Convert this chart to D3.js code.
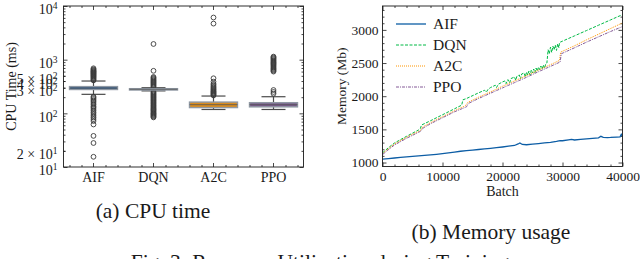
<!DOCTYPE html>
<html>
<head>
<meta charset="utf-8">
<script src="https://cdn.jsdelivr.net/npm/d3@7"></script>
<style>
  body { margin: 0; background: #fff; }
  svg { display: block; font-family: "Liberation Serif", "DejaVu Serif", serif; }
</style>
</head>
<body>
<script>
// ---- (a) CPU time, box stats (ms) ----
var cpuCategories = ["AIF", "DQN", "A2C", "PPO"];
var cpuQ1 = [278, 272, 128, 132];
var cpuMedian = [295, 281, 145, 145];
var cpuQ3 = [315, 288, 162, 158];
var cpuWhiskerLow = [226, 262, 118, 118];
var cpuWhiskerHigh = [400, 300, 210, 204];
var cpuBoxColors = ["#2f5f93", "#7c7c7c", "#d98c1f", "#7a5a8c"];
var aifOutliers = [410, 425, 440, 455, 470, 485, 500, 515, 530, 545, 560, 575, 590, 605, 620, 640, 660, 690,
  205, 195, 185, 175, 165, 155, 145, 135, 128, 120, 112, 104, 97, 90, 84, 78, 72, 62, 38, 28, 15.5];
var dqnOutliers = [84, 87, 90, 93, 96, 99, 102, 106, 110, 114, 118, 122, 127, 132, 137, 142, 148, 154, 160, 167,
  174, 181, 189, 197, 205, 214, 223, 232, 242, 252, 310, 322, 335, 348, 362, 376, 391, 406, 422, 440, 458, 476, 620, 1960];
var a2cOutliers = [215, 222, 229, 236, 244, 252, 260, 270, 280, 292, 305, 320, 338, 355, 389, 450, 4700, 6100];
var ppoOutliers = [232, 250, 272, 600, 625, 650, 675, 700, 730, 760, 790, 820, 850, 880, 910, 945, 980, 1020, 1060, 1100, 1140];
var cpuOutliers = [aifOutliers, dqnOutliers, a2cOutliers, ppoOutliers];
var cpuMajorTicks = [10, 100, 1000, 10000];
var cpuLabelledMinor = [20, 300, 400, 500];

// ---- (b) Memory usage, [batch, Mb] ----
var aifMemory = [[0,1052],[1000,1060],[2000,1068],[3000,1077],[4000,1085],[5000,1092],[6000,1100],[7000,1108],
  [8000,1115],[9000,1124],[10000,1134],[11000,1146],[12000,1158],[13000,1170],[14000,1180],[15000,1188],
  [16000,1196],[17000,1205],[18000,1214],[19000,1224],[20000,1234],[21000,1246],[22000,1257],[22600,1280],
  [22900,1295],[23300,1272],[24000,1268],[25000,1276],[26000,1285],[27000,1295],[28000,1305],[29000,1318],
  [29600,1330],[30000,1328],[31000,1342],[31500,1350],[32000,1340],[33000,1350],[34000,1358],[35000,1365],
  [36000,1372],[36400,1395],[36800,1380],[37500,1376],[38000,1378],[39000,1384],[39600,1388],[39800,1425],[40000,1398]];
var dqnMemory = [[0,1145],[500,1185],[1000,1225],[2000,1295],[4000,1395],[6000,1490],[6300,1510],[6500,1565],
  [8000,1630],[10000,1720],[12000,1810],[13200,1865],[13400,1945],[14000,1965],[16000,2050],[17000,2090],
  [17300,2060],[17600,2105],[18000,2130],[18800,2165],[19000,2130],[19300,2180],[20000,2215],[20400,2230],
  [20600,2190],[20900,2250],[21200,2200],[21400,2265],[22000,2290],[22200,2240],[22400,2300],[22800,2320],
  [23000,2260],[23200,2335],[23600,2350],[23800,2290],[24000,2365],[24200,2320],[24400,2380],[24600,2320],
  [24800,2395],[25000,2350],[25200,2410],[25400,2355],[25600,2425],[25800,2380],[26000,2440],[26200,2400],
  [26400,2455],[26600,2410],[26800,2470],[27000,2420],[27200,2485],[27400,2500],[27600,2700],[27800,2640],
  [28000,2740],[28200,2660],[28400,2755],[28600,2700],[28800,2770],[29000,2690],[29200,2790],[29400,2730],
  [29500,2810],[30000,2830],[32000,2910],[34000,2990],[36000,3070],[38000,3150],[40000,3230]];
var a2cMemory = [[0,1135],[500,1170],[1000,1210],[2000,1280],[4000,1380],[6000,1470],[6400,1490],[6700,1535],
  [8000,1600],[10000,1690],[12000,1780],[13800,1855],[14200,1905],[16000,1985],[18000,2065],[20000,2150],
  [22000,2230],[24000,2310],[26000,2395],[28000,2475],[29500,2540],[29700,2665],[32000,2760],[34000,2850],
  [36000,2935],[38000,3020],[40000,3105]];
var ppoMemory = [[0,1120],[500,1155],[1000,1195],[2000,1265],[4000,1365],[6000,1455],[6400,1475],[6700,1515],
  [8000,1585],[10000,1675],[12000,1765],[14000,1840],[14300,1890],[16000,1965],[18000,2045],[20000,2125],
  [22000,2205],[24000,2285],[26000,2370],[28000,2450],[29600,2515],[29800,2640],[32000,2730],[34000,2815],
  [36000,2895],[38000,2975],[40000,3050]];
var memSeries = ["AIF", "DQN", "A2C", "PPO"];
var memData = [aifMemory, dqnMemory, a2cMemory, ppoMemory];
var memColors = ["#0C5DA5", "#00B945", "#FF9500", "#845B97"];
var memDash = [null, "3,1.5", "1,1", "3,1,1,1"];
var memXTicks = [0, 10000, 20000, 30000, 40000];
var memYTicks = [1000, 1500, 2000, 2500, 3000];

var svg = d3.select("body").append("svg").attr("width", 640).attr("height", 259);
svg.append("rect").attr("width", 640).attr("height", 259).attr("fill", "#fff");

var ink = "#1a1a1a";
var fsA = 14, fsB = 13.5;

function sup(sel, v) {
  var e = Math.floor(Math.log10(v) + 1e-9);
  var m = Math.round(v / Math.pow(10, e));
  sel.text(null).attr("dy", "0.55em");
  sel.append("tspan").text(m === 1 ? "10" : m + " \u00d7 10");
  sel.append("tspan").attr("font-size", 9.5).attr("dy", "-0.5em").text(e);
}

function styleAxis(fs) {
  return function(g) {
    g.select(".domain").remove();
    g.selectAll("line").attr("stroke", ink).attr("stroke-width", 0.8);
    g.selectAll("text").attr("fill", ink).attr("font-size", fs).attr("font-family", "Liberation Serif");
  };
}

// ================= (a) =================
var ax = { l: 63.5, r: 303.5, t: 6, b: 167 };
var xc = d3.scaleBand().domain(cpuCategories).range([ax.l, ax.r]);
var yc = d3.scaleLog().domain([10, 10000]).range([ax.b, ax.t]);
var ga = svg.append("g");
var stA = styleAxis(fsA);

var minorLog = yc.ticks().filter(function(v) { return cpuMajorTicks.indexOf(v) < 0; });
ga.append("g").attr("transform", "translate(" + ax.l + ",0)")
  .call(d3.axisLeft(yc).tickValues(minorLog).tickSize(-2).tickFormat("")).call(stA);
ga.append("g").attr("transform", "translate(" + ax.r + ",0)")
  .call(d3.axisRight(yc).tickValues(minorLog).tickSize(-2).tickFormat("")).call(stA);
ga.append("g").attr("transform", "translate(" + ax.r + ",0)")
  .call(d3.axisRight(yc).tickValues(cpuMajorTicks).tickSize(-4).tickFormat("")).call(stA);
var yAxisA = ga.append("g").attr("transform", "translate(" + ax.l + ",0)")
  .call(d3.axisLeft(yc).tickValues(cpuMajorTicks.concat(cpuLabelledMinor)).tickSize(-4).tickPadding(6))
  .call(stA);
yAxisA.selectAll(".tick").filter(function(d) { return cpuLabelledMinor.indexOf(d) >= 0; })
  .select("line").attr("x2", 2);
yAxisA.selectAll(".tick text").each(function(d) { sup(d3.select(this), d); });

// category ticks with minor every 0.2 of a band
var xcPos = d3.scaleLinear().domain([-0.5, 3.5]).range([ax.l, ax.r]);
var xMinor = d3.range(-0.4, 3.5, 0.2).filter(function(v) { return Math.abs(v - Math.round(v)) > 0.01; });
[ax.b, ax.t].forEach(function(yy, i) {
  var axisF = i === 0 ? d3.axisBottom : d3.axisTop;
  ga.append("g").attr("transform", "translate(0," + yy + ")")
    .call(axisF(xcPos).tickValues(xMinor).tickSize(-2).tickFormat("")).call(stA);
});
ga.append("g").attr("transform", "translate(0," + ax.t + ")")
  .call(d3.axisTop(xc).tickSize(-4).tickFormat("")).call(stA);
ga.append("g").attr("transform", "translate(0," + ax.b + ")")
  .call(d3.axisBottom(xc).tickSize(-4).tickPadding(5)).call(stA);

// boxes
var boxW = xc.bandwidth() * 0.8;
cpuCategories.forEach(function(c, i) {
  var cx = xc(c) + xc.bandwidth() / 2;
  var g = ga.append("g");
  g.append("line").attr("x1", cx).attr("x2", cx)
    .attr("y1", yc(cpuWhiskerHigh[i])).attr("y2", yc(cpuQ3[i]))
    .attr("stroke", "#4a4a4a").attr("stroke-width", 1.2);
  g.append("line").attr("x1", cx).attr("x2", cx)
    .attr("y1", yc(cpuWhiskerLow[i])).attr("y2", yc(cpuQ1[i]))
    .attr("stroke", "#4a4a4a").attr("stroke-width", 1.2);
  [cpuWhiskerHigh[i], cpuWhiskerLow[i]].forEach(function(w) {
    g.append("line").attr("x1", cx - boxW / 4).attr("x2", cx + boxW / 4)
      .attr("y1", yc(w)).attr("y2", yc(w))
      .attr("stroke", "#4a4a4a").attr("stroke-width", 1.2);
  });
  g.selectAll("circle").data(cpuOutliers[i]).enter().append("circle")
    .attr("cx", cx).attr("cy", function(d) { return yc(d); }).attr("r", 2.4)
    .attr("fill", "none").attr("stroke", "#3a3a3a").attr("stroke-width", 0.9);
  g.append("rect").attr("x", cx - boxW / 2).attr("width", boxW)
    .attr("y", yc(cpuQ3[i])).attr("height", yc(cpuQ1[i]) - yc(cpuQ3[i]))
    .attr("fill", cpuBoxColors[i]).attr("stroke", "#8f98a3").attr("stroke-width", 1.4);
  g.append("line").attr("x1", cx - boxW / 2).attr("x2", cx + boxW / 2)
    .attr("y1", yc(cpuMedian[i])).attr("y2", yc(cpuMedian[i]))
    .attr("stroke", "#555").attr("stroke-width", 0.8);
});

ga.append("rect").attr("x", ax.l).attr("y", ax.t).attr("width", ax.r - ax.l).attr("height", ax.b - ax.t)
  .attr("fill", "none").attr("stroke", ink).attr("stroke-width", 0.9);
ga.append("text").attr("transform", "translate(11," + ((ax.t + ax.b) / 2) + ") rotate(-90)")
  .attr("text-anchor", "middle").attr("dy", "0.35em").attr("font-size", fsA).attr("fill", ink)
  .text("CPU Time (ms)");

// ================= (b) =================
var bx = { l: 382.5, r: 622.5, t: 6, b: 166.5 };
var xm = d3.scaleLinear().domain([0, 40000]).range([bx.l, bx.r]);
var ym = d3.scaleLinear().domain([940, 3360]).range([bx.b, bx.t]);
var gb = svg.append("g");
var stB = styleAxis(fsB);

var xmMinor = d3.range(2000, 40000, 2000).filter(function(v) { return v % 10000; });
var ymMinor = d3.range(1000, 3360, 100).filter(function(v) { return v % 500; });
[[bx.b, d3.axisBottom], [bx.t, d3.axisTop]].forEach(function(p, i) {
  gb.append("g").attr("transform", "translate(0," + p[0] + ")")
    .call(p[1](xm).tickValues(xmMinor).tickSize(-2).tickFormat("")).call(stB);
  gb.append("g").attr("transform", "translate(0," + p[0] + ")")
    .call(p[1](xm).tickValues(memXTicks).tickSize(-4).tickPadding(5).tickFormat(i === 0 ? d3.format("d") : ""))
    .call(stB);
});
[[bx.l, d3.axisLeft], [bx.r, d3.axisRight]].forEach(function(p, i) {
  gb.append("g").attr("transform", "translate(" + p[0] + ",0)")
    .call(p[1](ym).tickValues(ymMinor).tickSize(-2).tickFormat("")).call(stB);
  gb.append("g").attr("transform", "translate(" + p[0] + ",0)")
    .call(p[1](ym).tickValues(memYTicks).tickSize(-4).tickPadding(4).tickFormat(i === 0 ? d3.format("d") : ""))
    .call(stB);
});

var line = d3.line().x(function(d) { return xm(d[0]); }).y(function(d) { return ym(d[1]); });
gb.append("clipPath").attr("id", "clipb").append("rect")
  .attr("x", bx.l).attr("y", bx.t).attr("width", bx.r - bx.l).attr("height", bx.b - bx.t);
memData.forEach(function(data, i) {
  gb.append("path").datum(data).attr("d", line).attr("clip-path", "url(#clipb)")
    .attr("fill", "none").attr("stroke", memColors[i]).attr("stroke-width", i === 0 ? 1.3 : 1)
    .attr("stroke-dasharray", memDash[i]);
});

gb.append("rect").attr("x", bx.l).attr("y", bx.t).attr("width", bx.r - bx.l).attr("height", bx.b - bx.t)
  .attr("fill", "none").attr("stroke", ink).attr("stroke-width", 0.9);

var leg = gb.append("g").selectAll("g").data(memSeries).enter().append("g")
  .attr("transform", function(d, i) { return "translate(396," + (24 + i * 21) + ")"; });
leg.append("line").attr("x1", 0).attr("x2", 30)
  .attr("stroke", function(d, i) { return memColors[i]; })
  .attr("stroke-width", function(d, i) { return i === 0 ? 1.3 : 1; })
  .attr("stroke-dasharray", function(d, i) { return memDash[i]; });
leg.append("text").attr("x", 37).attr("dy", "0.35em").attr("font-size", 15.5).attr("fill", ink)
  .text(function(d) { return d; });

gb.append("text").attr("x", (bx.l + bx.r) / 2).attr("y", 196).attr("text-anchor", "middle")
  .attr("font-size", 14).attr("fill", ink).text("Batch");
gb.append("text").attr("transform", "translate(341," + ((bx.t + bx.b) / 2) + ") rotate(-90)")
  .attr("text-anchor", "middle").attr("dy", "0.35em").attr("font-size", fsB).attr("fill", ink)
  .text("Memory (Mb)");

// ================= captions =================
var cap = svg.append("g").attr("font-size", 21.5).attr("fill", ink).attr("text-anchor", "middle");
cap.append("text").attr("x", 153).attr("y", 218).text("(a) CPU time");
cap.append("text").attr("x", 491).attr("y", 239).text("(b) Memory usage");
cap.append("text").attr("x", 320).attr("y", 269).text("Fig. 3: Resource Utilization during Training");
</script>
</body>
</html>
